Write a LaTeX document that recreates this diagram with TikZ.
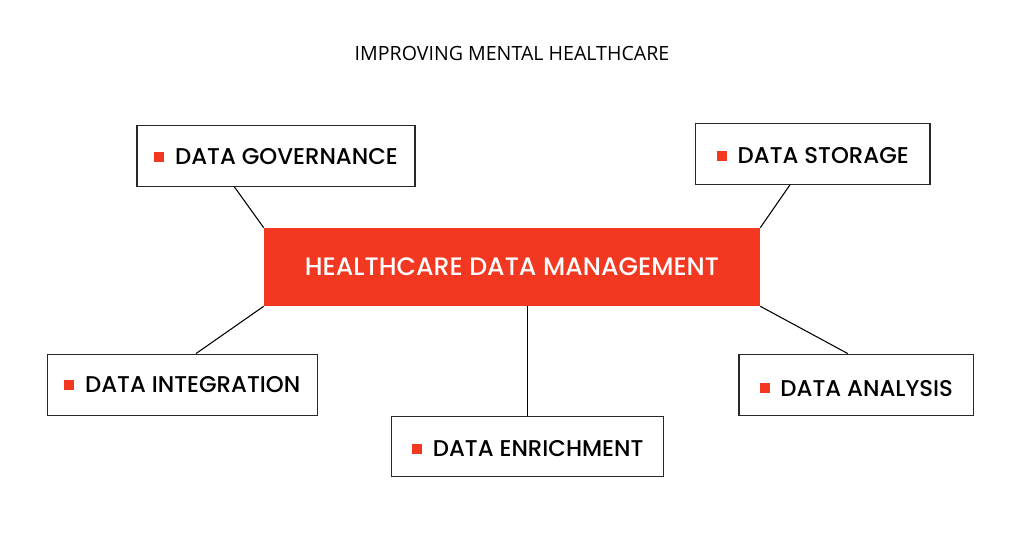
\documentclass[tikz,border=0pt]{standalone}
\usepackage{fontspec}
\setmainfont{Poppins}
\newfontfamily\pmed{Poppins Medium}
\newfontfamily\titlefont{Open Sans}
\usetikzlibrary{positioning,calc}
\definecolor{accent}{RGB}{243,56,33}
\definecolor{edge}{RGB}{40,40,40}
\tikzset{
  px/.style={x=0.75pt,y=-0.75pt},
  leaf/.style={draw=edge,line width=0.9pt,fill=white,minimum height=45.75pt,inner sep=0pt},
  lbl/.style={inner sep=0pt,font=\pmed\fontsize{17.1pt}{20pt}\selectfont,text=black},
  hub/.style={fill=accent,minimum width=372pt,minimum height=58.5pt,inner sep=0pt,font=\pmed\fontsize{18.9pt}{22pt}\selectfont,text=white},
  link/.style={draw=black,line width=0.8pt},
  ttl/.style={font=\titlefont\fontsize{14.7pt}{17pt}\selectfont,text=black,inner sep=0pt}
}
\newcommand{\bul}{{\color{accent}\raisebox{2pt}{\rule{7.5pt}{7.5pt}}}\hspace{8.2pt}}
\begin{document}
\begin{tikzpicture}[px]
\useasboundingbox (0,0) rectangle (1024,536);
\fill[white] (0,0) rectangle (1024,536);
\node[ttl] (title) at (512,53.3) {IMPROVING MENTAL HEALTHCARE};
\node[hub] (hdm) at (512,267) {HEALTHCARE DATA MANAGEMENT};
\node[leaf,minimum width=208.5pt] (gov) at (276,155.8) {};
\node[leaf,minimum width=175.9pt] (sto) at (812.8,153.7) {};
\node[leaf,minimum width=202.5pt] (int) at (182.2,384.7) {};
\node[leaf,minimum width=204pt,minimum height=45.4pt] (enr) at (527.7,446.5) {};
\node[leaf,minimum width=175.7pt] (ana) at (856.2,384.7) {};
\node[lbl] (govt) at ([yshift=-0.8pt]gov.center) {\bul DATA GOVERNANCE};
\node[lbl] (stot) at ([yshift=-1.7pt]sto.center) {\bul DATA STORAGE};
\node[lbl] (intt) at (int.center) {\bul DATA INTEGRATION};
\node[lbl] (enrt) at ([yshift=-1.3pt]enr.center) {\bul DATA ENRICHMENT};
\node[lbl] (anat) at ([yshift=-2.6pt]ana.center) {\bul DATA ANALYSIS};
\draw[link] ([xshift=73.5pt]gov.south west) -- (hdm.north west);
\draw[link] ([xshift=71.3pt]sto.south west) -- (hdm.north east);
\draw[link] ([xshift=112pt]int.north west) -- (hdm.south west);
\draw[link] (enr.north) -- (hdm.south -| enr.north);
\draw[link] (hdm.south east) -- ([xshift=82pt]ana.north west);
\end{tikzpicture}
\end{document}
